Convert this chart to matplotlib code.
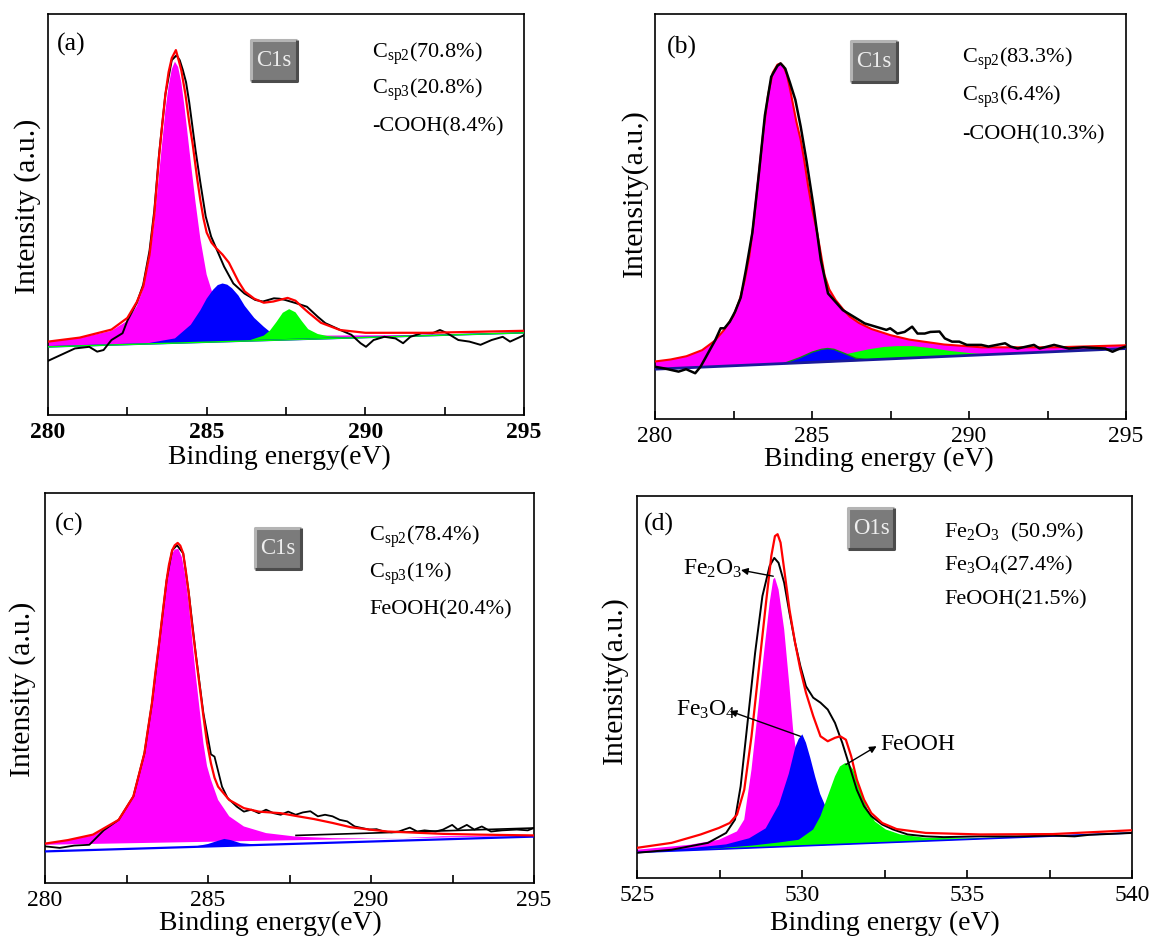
import matplotlib
matplotlib.use("Agg")
import matplotlib.pyplot as plt
from matplotlib.patches import Rectangle

plt.rcParams['font.family'] = 'Liberation Serif'
plt.rcParams['mathtext.fontset'] = 'custom'
plt.rcParams['mathtext.rm'] = 'Liberation Serif'
plt.rcParams['mathtext.it'] = 'Liberation Serif:italic'
plt.rcParams['mathtext.bf'] = 'Liberation Serif:bold'

# ---------------- (a) C1s ----------------
a_base_x = [280, 295]
a_base_y = [0.170, 0.205]
a_mag_x = [280, 280, 281, 282, 282.5, 282.8, 283.0, 283.2, 283.35, 283.5, 283.6, 283.7, 283.8, 283.9,
           284.0, 284.1, 284.2, 284.3, 284.4, 284.5, 284.65, 284.8, 285.0, 285.2, 285.5, 286.0, 287.0,
           288.5, 291, 295]
a_mag_y = [0.170, 0.183, 0.192, 0.210, 0.235, 0.272, 0.315, 0.390, 0.480, 0.600, 0.680, 0.760, 0.820, 0.862,
           0.881, 0.868, 0.830, 0.770, 0.700, 0.630, 0.530, 0.440, 0.350, 0.300, 0.255, 0.222, 0.203,
           0.198, 0.199, 0.205]
a_blue_x = [283.0, 283.5, 284.0, 284.5, 284.8, 285.0, 285.2, 285.35, 285.5, 285.65, 285.8, 286.0, 286.2,
            286.5, 286.8, 287.0, 287.3, 287.8, 289.0]
a_blue_y = [0.177, 0.184, 0.191, 0.225, 0.261, 0.290, 0.312, 0.324, 0.328, 0.325, 0.316, 0.298, 0.272,
            0.242, 0.220, 0.207, 0.196, 0.191, 0.191]
a_green_x = [286.3, 286.8, 287.0, 287.2, 287.4, 287.6, 287.8, 288.0, 288.2, 288.5, 288.8, 289.2, 289.8, 291]
a_green_y = [0.185, 0.198, 0.211, 0.232, 0.255, 0.264, 0.256, 0.234, 0.214, 0.202, 0.197, 0.195, 0.194, 0.196]
a_fit_x = [280, 281, 282, 282.5, 282.8, 283.0, 283.2, 283.35, 283.5, 283.6, 283.7, 283.8, 283.9, 284.03,
           284.1, 284.2, 284.33, 284.45, 284.56, 284.7, 284.8, 284.9, 285.0, 285.15, 285.3, 285.5, 285.7,
           286.0, 286.2, 286.5, 286.8, 287.1, 287.4, 287.55, 287.8, 288.0, 288.2, 288.6, 289.2, 290.0,
           292.0, 295.0]
a_fit_y = [0.183, 0.193, 0.213, 0.242, 0.282, 0.320, 0.400, 0.500, 0.645, 0.725, 0.800, 0.855, 0.890, 0.910,
           0.890, 0.860, 0.800, 0.730, 0.675, 0.590, 0.536, 0.490, 0.455, 0.430, 0.416, 0.400, 0.380,
           0.333, 0.308, 0.290, 0.280, 0.283, 0.289, 0.292, 0.285, 0.270, 0.256, 0.230, 0.212, 0.205,
           0.205, 0.210]
a_raw_x = [280.0, 280.85, 281.3, 281.55, 281.75, 282.0, 282.35, 282.5, 282.8, 283.0, 283.2, 283.35, 283.5,
           283.7, 283.9, 284.05, 284.15, 284.25, 284.35, 284.45, 284.55, 284.65, 284.8, 284.97, 285.14,
           285.37, 285.55, 285.84, 286.19, 286.53, 286.77, 287.12, 287.3, 287.47, 287.81, 288.16, 288.5,
           288.74, 289.21, 289.56, 289.85, 290.02, 290.26, 290.6, 290.95, 291.19, 291.42, 291.77, 292.12,
           292.35, 292.58, 292.93, 293.28, 293.63, 293.98, 294.33, 294.56, 295.0]
a_raw_y = [0.135, 0.166, 0.170, 0.158, 0.162, 0.187, 0.204, 0.235, 0.280, 0.325, 0.410, 0.510, 0.650,
           0.800, 0.885, 0.897, 0.885, 0.860, 0.830, 0.780, 0.720, 0.660, 0.580, 0.495, 0.445,
           0.403, 0.370, 0.328, 0.303, 0.287, 0.283, 0.291, 0.290, 0.287, 0.279, 0.270, 0.245,
           0.229, 0.212, 0.200, 0.179, 0.170, 0.187, 0.195, 0.191, 0.179, 0.195, 0.204, 0.204,
           0.212, 0.204, 0.187, 0.183, 0.175, 0.187, 0.195, 0.183, 0.199]
a_notes = [r'C$_{\rm sp2}$(70.8%)', r'C$_{\rm sp3}$(20.8%)', '-COOH(8.4%)']

# ---------------- (b) C1s ----------------
b_base_x = [280, 295]
b_base_y = [0.123, 0.174]
b_fit_x = [280, 280.5, 281.0, 281.5, 281.9, 282.2, 282.5, 282.7, 282.85, 283.0, 283.15, 283.3, 283.45,
           283.6, 283.75, 283.9, 284.0, 284.1, 284.2, 284.3, 284.4, 284.5, 284.64, 284.75, 284.88, 285.0,
           285.17, 285.3, 285.4, 285.55, 285.75, 286.0, 286.2, 286.5, 286.9, 287.5, 288.1, 289.2, 290.4,
           292.7, 295.0]
b_fit_y = [0.142, 0.147, 0.155, 0.170, 0.193, 0.220, 0.255, 0.295, 0.340, 0.400, 0.490, 0.600, 0.710,
           0.800, 0.855, 0.875, 0.878, 0.870, 0.850, 0.815, 0.775, 0.735, 0.689, 0.640, 0.574, 0.520,
           0.458, 0.400, 0.355, 0.320, 0.294, 0.270, 0.253, 0.237, 0.222, 0.207, 0.196, 0.184, 0.177,
           0.177, 0.182]
b_blue_x = [284.1, 284.6, 285.0, 285.3, 285.5, 285.7, 286.0, 286.4, 286.8]
b_blue_y = [0.137, 0.151, 0.165, 0.172, 0.174, 0.172, 0.163, 0.150, 0.146]
b_green_x = [284.6, 285.5, 286.2, 286.8, 287.3, 287.7, 288.2, 288.8, 289.4, 290.0, 290.7]
b_green_y = [0.139, 0.150, 0.162, 0.172, 0.178, 0.180, 0.180, 0.175, 0.168, 0.163, 0.159]
b_raw_x = [280.0, 280.29, 280.75, 280.99, 281.28, 281.45, 281.6, 281.92, 282.09, 282.21, 282.38, 282.55,
           282.73, 282.9, 283.1, 283.3, 283.5, 283.7, 283.9, 284.0, 284.15, 284.3, 284.47, 284.64, 284.82,
           285.05, 285.28, 285.51, 285.98, 286.68, 287.37, 287.49, 287.72, 287.95, 288.19, 288.36, 288.59,
           288.77, 289.06, 289.23, 289.46, 289.69, 289.93, 290.39, 290.62, 291.15, 291.32, 291.55, 292.07,
           292.25, 292.71, 293.18, 293.64, 294.34, 294.57, 294.8, 295.0]
b_raw_y = [0.129, 0.125, 0.117, 0.123, 0.113, 0.129, 0.150, 0.195, 0.224, 0.224, 0.240, 0.265,
           0.300, 0.370, 0.460, 0.600, 0.750, 0.845, 0.872, 0.878, 0.865, 0.830, 0.788, 0.722, 0.640,
           0.524, 0.393, 0.310, 0.269, 0.236, 0.220, 0.224, 0.211, 0.215, 0.228, 0.211, 0.211,
           0.215, 0.216, 0.199, 0.191, 0.191, 0.183, 0.183, 0.179, 0.187, 0.179, 0.174, 0.183,
           0.174, 0.183, 0.174, 0.177, 0.174, 0.166, 0.174, 0.179]
b_notes = [r'C$_{\rm sp2}$(83.3%)', r'C$_{\rm sp3}$(6.4%)', '-COOH(10.3%)']

# ---------------- (c) C1s ----------------
c_base_x = [280, 295]
c_base_y = [0.081, 0.119]
c_mag_base_y = [0.098, 0.121]
c_mag_x = [280, 281.47, 282.26, 282.71, 283.05, 283.15, 283.28, 283.38, 283.5, 283.62, 283.73, 283.8,
           283.9, 283.98, 284.09, 284.2, 284.3, 284.41, 284.52, 284.63, 284.75, 284.86, 284.97, 285.09,
           285.31, 285.65, 286.1, 286.78, 287.69, 288.82, 289.95, 291.0, 292.2, 295.0]
c_mag_y = [0.100, 0.122, 0.160, 0.218, 0.328, 0.385, 0.455, 0.530, 0.608, 0.695, 0.770, 0.810,
           0.845, 0.855, 0.857, 0.835, 0.790, 0.717, 0.620, 0.529, 0.440, 0.358, 0.300, 0.265,
           0.213, 0.171, 0.145, 0.128, 0.119, 0.115, 0.114, 0.115, 0.120, 0.121]
c_blue_x = [284.5, 285.0, 285.3, 285.5, 285.7, 286.0, 286.6]
c_blue_y = [0.092, 0.100, 0.108, 0.113, 0.110, 0.102, 0.098]
c_fit_x = [280.0, 280.7, 281.47, 282.26, 282.71, 283.05, 283.15, 283.28, 283.38, 283.5, 283.62, 283.73,
           283.8, 283.9, 283.98, 284.07, 284.15, 284.24, 284.32, 284.41, 284.5, 284.63, 284.75, 284.86,
           284.97, 285.09, 285.2, 285.31, 285.65, 286.1, 286.56, 287.23, 287.69, 288.25, 288.82, 289.38,
           289.95, 290.51, 291.08, 292.21, 293.34, 295.0]
c_fit_y = [0.101, 0.110, 0.124, 0.162, 0.222, 0.333, 0.390, 0.461, 0.535, 0.614, 0.700, 0.776,
           0.815, 0.853, 0.866, 0.872, 0.865, 0.845, 0.800, 0.742, 0.670, 0.580, 0.500, 0.427,
           0.360, 0.307, 0.270, 0.247, 0.213, 0.192, 0.183, 0.179, 0.172, 0.164, 0.154, 0.143,
           0.137, 0.132, 0.130, 0.126, 0.124, 0.122]
c_bg_x = [287.7, 295.0]
c_bg_y = [0.122, 0.141]
c_raw_x = [280.0, 280.45, 280.9, 281.36, 281.8, 282.26, 282.71, 283.05, 283.28, 283.5, 283.73, 283.9,
           284.05, 284.24, 284.41, 284.63, 284.86, 285.09, 285.2, 285.43, 285.6, 285.88, 286.1, 286.33,
           286.56, 286.78, 287.01, 287.23, 287.46, 287.69, 287.91, 288.14, 288.37, 288.59, 288.82, 289.04,
           289.27, 289.5, 289.72, 289.95, 290.17, 290.4, 290.63, 290.85, 291.19, 291.42, 291.64, 291.98,
           292.21, 292.49, 292.66, 292.94, 293.17, 293.4, 293.68, 294.02, 294.47, 294.81, 295.0]
c_raw_y = [0.094, 0.090, 0.096, 0.098, 0.135, 0.162, 0.222, 0.333, 0.461, 0.614, 0.776, 0.853,
           0.866, 0.845, 0.745, 0.585, 0.435, 0.330, 0.324, 0.247, 0.218, 0.196, 0.183, 0.188,
           0.179, 0.188, 0.179, 0.175, 0.183, 0.175, 0.181, 0.184, 0.171, 0.175, 0.171, 0.162,
           0.158, 0.145, 0.141, 0.137, 0.138, 0.132, 0.130, 0.132, 0.142, 0.132, 0.135, 0.132,
           0.137, 0.149, 0.137, 0.149, 0.137, 0.145, 0.132, 0.135, 0.137, 0.135, 0.141]
c_notes = [r'C$_{\rm sp2}$(78.4%)', r'C$_{\rm sp3}$(1%)', 'FeOOH(20.4%)']

# ---------------- (d) O1s ----------------
d_base_x = [525, 540]
d_base_y = [0.067, 0.118]
d_mag_x = [525, 525, 526.6, 527.48, 528.03, 528.25, 528.47, 528.69, 528.85, 529.02, 529.13, 529.18,
           529.29, 529.46, 529.62, 529.73, 529.9, 530.12, 530.45, 531.0, 532.1, 533.0]
d_mag_y = [0.067, 0.074, 0.087, 0.100, 0.122, 0.153, 0.284, 0.459, 0.590, 0.721, 0.782, 0.786,
           0.755, 0.651, 0.502, 0.389, 0.284, 0.197, 0.144, 0.109, 0.092, 0.094]
d_blue_x = [525, 526.6, 527.7, 528.4, 528.9, 529.3, 529.6, 529.8, 529.9, 530.01, 530.12, 530.25, 530.4,
            530.55, 530.7, 530.9, 531.2, 531.7, 532.5, 534.0, 536.0]
d_blue_y = [0.067, 0.078, 0.088, 0.104, 0.130, 0.192, 0.273, 0.343, 0.364, 0.376, 0.354, 0.315, 0.265,
            0.220, 0.190, 0.150, 0.118, 0.105, 0.100, 0.100, 0.104]
d_green_x = [526.0, 527.5, 528.5, 529.3, 529.9, 530.34, 530.56, 530.78, 531.0, 531.15, 531.31, 531.45,
             531.55, 531.77, 531.99, 532.21, 532.54, 532.98, 533.75, 535.0, 537.0, 540.0]
d_green_y = [0.070, 0.078, 0.085, 0.093, 0.100, 0.127, 0.162, 0.214, 0.266, 0.292, 0.301, 0.295,
             0.284, 0.231, 0.179, 0.148, 0.127, 0.114, 0.105, 0.104, 0.109, 0.118]
d_fit_x = [525.0, 526.05, 526.93, 527.48, 527.81, 528.03, 528.25, 528.47, 528.69, 528.91, 529.07, 529.18,
           529.26, 529.35, 529.46, 529.62, 529.79, 529.95, 530.12, 530.34, 530.56, 530.78, 531.0, 531.16,
           531.33, 531.49, 531.66, 531.88, 532.1, 532.43, 532.87, 533.75, 535.4, 537.6, 540.0]
d_fit_y = [0.079, 0.092, 0.114, 0.131, 0.144, 0.166, 0.231, 0.371, 0.546, 0.721, 0.843, 0.895,
           0.900, 0.878, 0.808, 0.703, 0.616, 0.546, 0.485, 0.424, 0.371, 0.358, 0.367, 0.371,
           0.362, 0.319, 0.258, 0.205, 0.170, 0.144, 0.128, 0.118, 0.114, 0.115, 0.125]
d_raw_x = [525.0, 526.05, 527.15, 527.7, 527.97, 528.14, 528.36, 528.58, 528.8, 529.02, 529.16, 529.29,
           529.46, 529.62, 529.79, 529.95, 530.12, 530.34, 530.56, 530.78, 531.0, 531.22, 531.44, 531.66,
           531.88, 532.1, 532.43, 532.76, 533.2, 533.75, 534.3, 535.4, 536.5, 537.6, 538.26, 538.7, 540.0]
d_raw_y = [0.066, 0.074, 0.092, 0.118, 0.153, 0.240, 0.415, 0.590, 0.738, 0.817, 0.838, 0.825,
           0.773, 0.694, 0.616, 0.555, 0.502, 0.472, 0.459, 0.441, 0.406, 0.354, 0.293, 0.231,
           0.188, 0.162, 0.140, 0.127, 0.114, 0.109, 0.107, 0.109, 0.109, 0.111, 0.109, 0.113, 0.118]
d_notes = [r'Fe$_2$O$_3$  (50.9%)', r'Fe$_3$O$_4$(27.4%)', 'FeOOH(21.5%)']
d_peak_labels = [r'Fe$_2$O$_3$', r'Fe$_3$O$_4$', 'FeOOH']
d_label_xy = [(526.38, 0.808), (526.18, 0.441), (532.37, 0.349)]
d_arrow_tail = [(529.13, 0.790), (529.95, 0.371), (531.33, 0.297)]
d_arrow_head = [(528.15, 0.806), (527.81, 0.437), (532.26, 0.345)]

W, H = 1151, 940
fig = plt.figure(figsize=(W / 100, H / 100), dpi=100)

pos_a = [48 / W, 1 - 415 / H, 476 / W, 401 / H]
pos_b = [655 / W, 1 - 419 / H, 471 / W, 405 / H]
pos_c = [45 / W, 1 - 883 / H, 489 / W, 390 / H]
pos_d = [637 / W, 1 - 878 / H, 495 / W, 382 / H]

MAG, BLUE, GREEN = '#ff00ff', '#0000ff', '#00ff00'


def setup_axes(pos, xlim, ticks, minor, bold, xlabel, xlab_xy, ylabel, ylab_xy, panel, panel_xy):
    ax = fig.add_axes(pos)
    ax.set_xlim(*xlim)
    ax.set_ylim(0, 1)
    ax.set_xticks(ticks)
    ax.set_xticks(minor, minor=True)
    ax.set_yticks([])
    ax.tick_params(axis='x', which='both', direction='in', length=6, width=1.2, top=False, pad=5,
                   labelsize=17)
    if bold:
        for lab in ax.get_xticklabels():
            lab.set_fontweight('bold')
    for s in ax.spines.values():
        s.set_linewidth(1.2)
    ax.set_xlabel(xlabel, fontsize=20)
    ax.xaxis.label.set_verticalalignment('center')
    ax.xaxis.set_label_coords(*xlab_xy)
    ax.set_ylabel(ylabel, fontsize=21.5)
    ax.yaxis.label.set_verticalalignment('center')
    ax.yaxis.set_label_coords(*ylab_xy)
    ax.text(panel_xy[0], panel_xy[1], panel, transform=ax.transAxes, fontsize=18.5,
            ha='left', va='center')
    return ax


def element_box(ax, pos, cx, cy, text):
    bw = 46 / (W * pos[2])
    bh = 41 / (H * pos[3])
    x0, y0 = cx - bw / 2, cy - bh / 2
    ax.add_patch(Rectangle((x0, y0), bw, bh, transform=ax.transAxes,
                           facecolor='#7b7b7b', edgecolor='none', zorder=6))
    ax.plot([x0, x0, x0 + bw], [y0, y0 + bh, y0 + bh], transform=ax.transAxes,
            color='#b4b4b4', lw=2.2, zorder=7, solid_capstyle='butt')
    ax.plot([x0, x0 + bw, x0 + bw], [y0, y0, y0 + bh], transform=ax.transAxes,
            color='#4c4c4c', lw=2.2, zorder=7, solid_capstyle='butt')
    ax.text(cx, cy, text, transform=ax.transAxes, color='#eeeeee', fontsize=16.5,
            ha='center', va='center', zorder=8)


def notes(ax, x, ys, lines, size=16):
    for y, t in zip(ys, lines):
        ax.text(x, y, t, transform=ax.transAxes, fontsize=size, ha='left', va='center')


# (a)
ax = setup_axes(pos_a, (280, 295), [280, 285, 290, 295], [282.5, 287.5, 292.5], True,
                'Binding energy(eV)', (0.487, -0.105), 'Intensity (a.u.)', (-0.042, 0.52),
                '(a)', (0.018, 0.925))
ax.fill(a_mag_x, a_mag_y, color=MAG, lw=0, zorder=2)
ax.fill(a_blue_x, a_blue_y, color=BLUE, lw=0, zorder=3)
ax.fill(a_green_x, a_green_y, color=GREEN, lw=0, zorder=4)
ax.plot(a_base_x, a_base_y, color=BLUE, lw=1.2, zorder=4)
ax.plot(a_base_x, a_base_y, color=GREEN, lw=1.0, zorder=4)
ax.plot(a_raw_x, a_raw_y, color='black', lw=1.4, zorder=5)
ax.plot(a_fit_x, a_fit_y, color='red', lw=1.6, zorder=5)
element_box(ax, pos_a, 0.474, 0.884, 'C1s')
notes(ax, 0.68, [0.902, 0.81, 0.719], a_notes)

# (b)
ax = setup_axes(pos_b, (280, 295), [280, 285, 290, 295], [282.5, 287.5, 292.5], False,
                'Binding energy (eV)', (0.476, -0.101), 'Intensity(a.u.)', (-0.0435, 0.558),
                '(b)', (0.025, 0.918))
ax.fill([b_base_x[0]] + b_fit_x + [b_base_x[1]], [b_base_y[0]] + b_fit_y + [b_base_y[1]],
        color=MAG, lw=0, zorder=2)
ax.fill(b_green_x, b_green_y, color=GREEN, lw=0, zorder=3)
ax.fill(b_blue_x, b_blue_y, facecolor=BLUE, edgecolor='#118811', lw=1.0, zorder=3)
ax.plot(b_base_x, b_base_y, color='#1a1a9a', lw=2.0, zorder=4)
ax.plot(b_fit_x, b_fit_y, color='red', lw=1.5, zorder=5)
ax.plot(b_raw_x, b_raw_y, color='black', lw=1.8, zorder=5)
element_box(ax, pos_b, 0.464, 0.882, 'C1s')
notes(ax, 0.652, [0.89, 0.796, 0.701], b_notes)

# (c)
ax = setup_axes(pos_c, (280, 295), [280, 285, 290, 295], [282.5, 287.5, 292.5], False,
                'Binding energy(eV)', (0.461, -0.103), 'Intensity (a.u.)', (-0.045, 0.497),
                '(c)', (0.021, 0.92))
ax.fill([c_base_x[0]] + c_mag_x + [c_base_x[1]], [c_mag_base_y[0]] + c_mag_y + [c_mag_base_y[1]],
        color=MAG, lw=0, zorder=2)
ax.fill(c_blue_x, c_blue_y, color=BLUE, lw=0, zorder=3)
ax.plot(c_base_x, c_base_y, color=BLUE, lw=1.6, zorder=4)
ax.plot(c_bg_x, c_bg_y, color='black', lw=1.2, zorder=4)
ax.plot(c_raw_x, c_raw_y, color='black', lw=1.3, zorder=5)
ax.plot(c_fit_x, c_fit_y, color='red', lw=1.6, zorder=5)
element_box(ax, pos_c, 0.477, 0.858, 'C1s')
notes(ax, 0.663, [0.887, 0.794, 0.70], c_notes)

# (d)
ax = setup_axes(pos_d, (525, 540), [525, 530, 535, 540], [527.5, 532.5, 537.5], False,
                'Binding energy (eV)', (0.50, -0.118), 'Intensity(a.u.)', (-0.045, 0.518),
                '(d)', (0.013, 0.926))
ax.fill(d_mag_x, d_mag_y, color=MAG, lw=0, zorder=2)
ax.fill(d_blue_x, d_blue_y, color=BLUE, lw=0, zorder=3)
ax.fill(d_green_x, d_green_y, color=GREEN, lw=0, zorder=4)
ax.plot(d_base_x, d_base_y, color=BLUE, lw=1.2, zorder=4)
ax.plot(d_raw_x, d_raw_y, color='black', lw=1.4, zorder=5)
ax.plot(d_fit_x, d_fit_y, color='red', lw=1.6, zorder=5)
for lab, (tx, ty), tail, head in zip(d_peak_labels, d_label_xy, d_arrow_tail, d_arrow_head):
    ax.text(tx, ty, lab, fontsize=17, ha='left', va='center', zorder=6)
    ax.annotate('', xy=head, xytext=tail,
                arrowprops=dict(arrowstyle='-|>', color='black', lw=1.0,
                                mutation_scale=10, shrinkA=0, shrinkB=0), zorder=6)
element_box(ax, pos_d, 0.473, 0.914, 'O1s')
notes(ax, 0.62, [0.904, 0.817, 0.729], d_notes)

fig.savefig('out.png', dpi=100)
